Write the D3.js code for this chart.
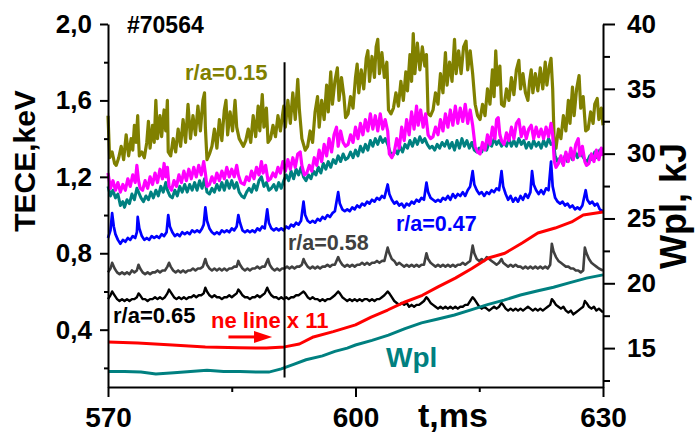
<!DOCTYPE html>
<meta charset="utf-8">
<title>ECE #70564</title>
<style>
body { margin: 0; background: #fff; }
svg { display: block; }
</style>
<svg width="697" height="434"></svg>
<script src="https://d3js.org/d3.v7.min.js"></script>
<script>
// ticks
var xTicks = [570, 600, 630], xMinor = [585, 615];
var yTicks = [0.4, 0.8, 1.2, 1.6, 2.0], yMinor = [0.2, 0.6, 1.0, 1.4, 1.8];
var yTickLabels = ["0,4", "0,8", "1,2", "1,6", "2,0"];
var wTicks = [15, 20, 25, 30, 35, 40], wMinor = [12.5, 17.5, 22.5, 27.5, 32.5, 37.5];

// sawtooth crash marker, ms
var markerT = 591.4, markerV = [0.15, 1.80];

// ECE r/a=0.15  [t ms, keV]
var ece015 = [[570.0,1.52],[570.2,1.30],[570.5,1.33],[570.8,1.27],[571.0,1.26],[571.3,1.30],
  [571.6,1.36],[571.9,1.29],[572.2,1.42],[572.5,1.31],[572.8,1.40],[573.0,1.34],[573.2,1.47],[573.4,1.38],[573.6,1.52],[573.7,1.40],
  [573.8,1.31],[574.1,1.33],[574.4,1.30],
  [574.7,1.38],[574.9,1.49],[575.1,1.35],[575.4,1.47],[575.6,1.38],[575.8,1.60],[576.0,1.40],[576.3,1.52],[576.5,1.41],[576.8,1.55],[577.0,1.44],[577.2,1.60],
  [577.3,1.33],[577.6,1.31],
  [577.9,1.40],[578.2,1.33],[578.5,1.45],[578.8,1.36],[579.1,1.50],[579.4,1.38],[579.7,1.58],[580.0,1.40],[580.3,1.52],[580.6,1.42],[580.9,1.57],[581.2,1.44],[581.5,1.60],[581.7,1.64],[581.8,1.46],
  [582.0,1.29],[582.3,1.32],
  [582.6,1.36],[582.9,1.45],[583.2,1.35],[583.5,1.50],[583.8,1.39],[584.1,1.55],[584.3,1.60],[584.5,1.42],[584.8,1.54],[585.1,1.44],[585.4,1.60],[585.6,1.46],
  [585.9,1.40],[586.4,1.36],[586.7,1.39],
  [587.0,1.45],[587.3,1.38],[587.6,1.52],[587.9,1.41],[588.2,1.57],[588.4,1.44],[588.7,1.63],[588.9,1.46],[589.2,1.56],[589.4,1.38],[589.7,1.40],
  [590.0,1.47],[590.3,1.41],[590.6,1.52],[590.9,1.44],[591.3,1.57],[591.5,1.46],[591.8,1.60],[592.1,1.48],[592.4,1.64],[592.7,1.50],[593.0,1.71],[593.2,1.55],
  [593.5,1.40],[593.9,1.34],[594.2,1.36],
  [594.5,1.44],[594.8,1.38],[595.1,1.54],[595.4,1.62],[595.6,1.46],[595.9,1.60],[596.2,1.50],[596.5,1.68],[596.7,1.54],[597.0,1.75],[597.2,1.58],[597.5,1.70],[597.8,1.77],[598.0,1.60],[598.3,1.72],[598.6,1.62],
  [598.8,1.51],[599.1,1.53],
  [599.4,1.62],[599.7,1.56],[600.0,1.72],[600.2,1.79],[600.4,1.64],[600.7,1.76],[601.0,1.66],[601.3,1.82],[601.5,1.86],[601.7,1.70],[602.0,1.83],[602.3,1.72],[602.5,1.88],[602.7,1.92],[602.9,1.74],[603.2,1.85],[603.5,1.72],[603.8,1.80],
  [604.0,1.55],[604.3,1.53],[604.6,1.56],
  [604.9,1.64],[605.2,1.57],[605.5,1.70],[605.8,1.60],[606.1,1.75],[606.3,1.65],[606.6,1.84],[606.8,1.70],[607.0,1.95],[607.2,1.74],[607.5,1.90],[607.8,1.76],[608.1,1.88],[608.4,1.78],[608.6,1.84],
  [608.8,1.53],[609.1,1.52],[609.4,1.55],
  [609.7,1.64],[610.0,1.58],[610.3,1.74],[610.6,1.64],[610.9,1.85],[611.1,1.68],[611.4,1.80],[611.7,1.70],[612.0,1.92],[612.2,1.74],[612.5,1.86],[612.8,1.74],[613.1,1.88],[613.4,1.91],[613.6,1.76],[613.9,1.86],[614.2,1.74],
  [614.5,1.58],[614.8,1.52],[615.1,1.50],
  [615.4,1.58],[615.7,1.52],[616.0,1.66],[616.3,1.58],[616.6,1.76],[616.8,1.62],[617.0,1.86],[617.2,1.68],[617.5,1.78],
  [617.7,1.58],[618.0,1.57],
  [618.3,1.66],[618.6,1.60],[618.9,1.72],[619.2,1.63],[619.5,1.76],[619.8,1.81],[620.0,1.66],[620.3,1.74],[620.6,1.64],[620.9,1.60],[621.1,1.70],[621.3,1.76],[621.5,1.64],[621.8,1.74],[622.1,1.65],[622.4,1.77],[622.7,1.66],[623.0,1.80],[623.2,1.68],[623.5,1.78],[623.7,1.82],[623.9,1.66],
  [624.1,1.36],[624.3,1.35],
  [624.6,1.45],[624.9,1.40],[625.2,1.52],[625.5,1.44],[625.8,1.60],[626.0,1.48],[626.3,1.67],[626.5,1.52],[626.8,1.66],[627.1,1.73],[627.3,1.56],[627.6,1.62],
  [627.9,1.44],[628.2,1.45],
  [628.5,1.54],[628.8,1.48],[629.0,1.58],[629.3,1.61],[629.5,1.50],[629.8,1.56],[630.0,1.47]];

// ECE, magenta channel
var eceMagenta = [[570.0,1.22],[570.3,1.14],[570.6,1.18],[570.9,1.13],[571.2,1.17],[571.5,1.12],[571.8,1.16],[572.1,1.13],[572.4,1.19],[572.7,1.15],[573.0,1.21],[573.3,1.17],[573.5,1.26],[573.7,1.18],
  [573.9,1.14],[574.2,1.13],
  [574.5,1.18],[574.8,1.14],[575.1,1.20],[575.4,1.16],[575.7,1.22],[576.0,1.17],[576.3,1.24],[576.6,1.19],[576.8,1.27],[577.0,1.20],[577.2,1.25],
  [577.4,1.15],[577.7,1.13],
  [578.0,1.18],[578.3,1.15],[578.6,1.21],[578.9,1.17],[579.2,1.23],[579.5,1.18],[579.8,1.24],[580.1,1.19],[580.4,1.25],[580.7,1.20],[581.0,1.26],[581.3,1.21],[581.6,1.28],[581.8,1.22],
  [582.0,1.15],[582.3,1.16],
  [582.6,1.20],[582.9,1.17],[583.2,1.22],[583.5,1.18],[583.8,1.23],[584.1,1.19],[584.4,1.25],[584.7,1.20],[585.0,1.24],[585.3,1.20],[585.6,1.26],[585.8,1.21],
  [586.1,1.17],[586.5,1.16],
  [586.8,1.20],[587.1,1.18],[587.4,1.23],[587.7,1.19],[588.0,1.25],[588.3,1.21],[588.6,1.28],[588.8,1.22],[589.1,1.26],
  [589.4,1.18],[589.7,1.19],
  [590.0,1.22],[590.3,1.20],[590.6,1.25],[590.9,1.22],[591.2,1.28],[591.5,1.23],[591.8,1.29],[592.1,1.24],[592.4,1.30],[592.7,1.25],[593.0,1.32],[593.3,1.33],[593.5,1.26],
  [593.8,1.21],[594.1,1.22],
  [594.4,1.26],[594.7,1.23],[595.0,1.30],[595.3,1.26],[595.6,1.34],[595.9,1.28],[596.2,1.37],[596.5,1.31],[596.8,1.40],[597.1,1.33],[597.4,1.42],[597.7,1.46],[597.9,1.36],[598.2,1.44],[598.5,1.38],
  [598.8,1.36],[599.1,1.37],
  [599.4,1.42],[599.7,1.38],[600.0,1.46],[600.3,1.40],[600.6,1.48],[600.9,1.42],[601.2,1.50],[601.5,1.44],[601.8,1.53],[602.1,1.45],[602.4,1.52],[602.7,1.44],[603.0,1.53],[603.3,1.45],[603.6,1.50],[603.9,1.44],
  [604.1,1.32],[604.4,1.30],[604.7,1.33],
  [605.0,1.40],[605.3,1.35],[605.6,1.46],[605.9,1.39],[606.2,1.50],[606.5,1.42],[606.8,1.54],[607.1,1.45],[607.4,1.57],[607.6,1.47],[607.9,1.55],[608.2,1.46],[608.5,1.53],
  [608.8,1.42],[609.1,1.40],[609.4,1.41],
  [609.7,1.46],[610.0,1.42],[610.3,1.50],[610.6,1.44],[610.9,1.53],[611.2,1.46],[611.5,1.55],[611.8,1.47],[612.1,1.57],[612.4,1.48],[612.7,1.56],[613.0,1.49],[613.3,1.58],[613.6,1.48],[613.9,1.55],[614.2,1.47],
  [614.5,1.36],[614.8,1.33],[615.1,1.32],
  [615.4,1.38],[615.7,1.34],[616.0,1.42],[616.3,1.37],[616.6,1.46],[616.9,1.40],[617.1,1.50],[617.3,1.51],[617.5,1.42],
  [617.7,1.39],[618.0,1.37],
  [618.3,1.43],[618.6,1.39],[618.9,1.46],[619.2,1.40],[619.5,1.48],[619.8,1.50],[620.1,1.41],[620.4,1.46],[620.7,1.40],[621.0,1.45],[621.3,1.47],[621.6,1.40],[621.9,1.46],[622.2,1.41],[622.5,1.45],[622.8,1.40],[623.1,1.46],[623.4,1.41],[623.7,1.48],[623.9,1.42],
  [624.1,1.28],[624.3,1.25],[624.6,1.27],
  [624.9,1.31],[625.2,1.26],[625.5,1.33],[625.8,1.28],[626.1,1.35],[626.4,1.29],[626.7,1.37],[627.0,1.40],[627.2,1.31],[627.5,1.36],
  [627.8,1.28],[628.0,1.26],[628.3,1.27],
  [628.6,1.32],[628.9,1.28],[629.2,1.34],[629.5,1.29],[629.8,1.35],[630.0,1.31]];

// ECE, teal channel
var eceTeal = [[570.0,1.15],[570.3,1.10],[570.6,1.13],[570.9,1.09],[571.2,1.11],[571.5,1.05],[571.8,1.07],[572.0,1.04],[572.3,1.08],[572.6,1.06],[572.9,1.11],[573.2,1.08],[573.5,1.14],[573.7,1.12],
  [574.0,1.09],[574.3,1.07],[574.6,1.10],[574.9,1.08],[575.2,1.12],[575.5,1.09],[575.8,1.13],[576.1,1.10],[576.4,1.15],[576.7,1.12],[577.0,1.17],[577.2,1.13],[577.5,1.10],[577.8,1.09],
  [578.1,1.13],[578.4,1.10],[578.7,1.15],[579.0,1.12],[579.3,1.16],[579.6,1.12],[579.9,1.16],[580.2,1.13],[580.5,1.17],[580.8,1.13],[581.1,1.18],[581.4,1.14],[581.7,1.19],[582.0,1.12],
  [582.3,1.11],[582.6,1.14],[582.9,1.12],[583.2,1.16],[583.5,1.13],[583.8,1.17],[584.1,1.13],[584.4,1.18],[584.7,1.14],[585.0,1.18],[585.3,1.14],[585.6,1.17],[585.9,1.12],[586.2,1.10],
  [586.5,1.09],[586.8,1.12],[587.1,1.14],[587.4,1.12],[587.7,1.16],[588.0,1.13],[588.3,1.18],[588.6,1.20],[588.9,1.15],[589.2,1.17],[589.5,1.13],[589.8,1.14],[590.1,1.16],[590.4,1.13],
  [590.7,1.17],[591.0,1.14],[591.3,1.18],[591.6,1.21],[591.9,1.18],[592.2,1.23],[592.5,1.19],[592.8,1.24],[593.1,1.21],[593.4,1.25],[593.7,1.20],[594.0,1.18],[594.3,1.21],[594.6,1.19],
  [594.9,1.23],[595.2,1.21],[595.5,1.25],[595.8,1.22],[596.1,1.27],[596.4,1.24],[596.7,1.28],[597.0,1.25],[597.3,1.29],[597.6,1.27],[597.9,1.31],[598.2,1.28],[598.5,1.32],[598.8,1.29],
  [599.1,1.30],[599.4,1.33],[599.7,1.30],[600.0,1.34],[600.3,1.31],[600.6,1.36],[600.9,1.33],[601.2,1.37],[601.5,1.34],[601.8,1.39],[602.1,1.36],[602.4,1.40],[602.7,1.37],[603.0,1.41],
  [603.3,1.38],[603.6,1.40],[603.9,1.37],[604.2,1.33],[604.5,1.31],[604.8,1.34],[605.1,1.32],[605.4,1.36],[605.7,1.33],[606.0,1.37],[606.3,1.35],[606.6,1.39],[606.9,1.36],[607.2,1.40],
  [607.5,1.37],[607.8,1.41],[608.1,1.38],[608.4,1.40],[608.7,1.37],[609.0,1.35],[609.3,1.36],[609.6,1.34],[609.9,1.37],[610.2,1.35],[610.5,1.38],[610.8,1.36],[611.1,1.39],[611.4,1.35],
  [611.7,1.38],[612.0,1.34],[612.3,1.39],[612.6,1.35],[612.9,1.40],[613.2,1.36],[613.5,1.39],[613.8,1.35],[614.1,1.38],[614.4,1.34],[614.7,1.33],[615.0,1.35],[615.3,1.33],[615.6,1.37],
  [615.9,1.34],[616.2,1.38],[616.5,1.36],[616.8,1.40],[617.1,1.37],[617.4,1.39],[617.7,1.36],[618.0,1.38],[618.3,1.36],[618.6,1.40],[618.9,1.36],[619.2,1.39],[619.5,1.36],[619.8,1.40],
  [620.1,1.37],[620.4,1.39],[620.7,1.35],[621.0,1.38],[621.3,1.35],[621.6,1.39],[621.9,1.36],[622.2,1.38],[622.5,1.35],[622.8,1.39],[623.1,1.36],[623.4,1.40],[623.7,1.37],[624.0,1.38],
  [624.2,1.31],[624.5,1.28],[624.8,1.30],[625.1,1.27],[625.4,1.31],[625.7,1.28],[626.0,1.32],[626.3,1.29],[626.6,1.33],[626.9,1.30],[627.2,1.34],[627.5,1.31],[627.8,1.29],[628.1,1.28],
  [628.4,1.31],[628.7,1.29],[629.0,1.33],[629.3,1.30],[629.6,1.34],[630.0,1.33]];

// ECE r/a=0.47
var ece047 = [[570.0,0.88],[570.3,0.92],[570.5,1.01],[570.7,0.94],[570.9,0.90],[571.2,0.87],[571.5,0.85],[571.8,0.87],[572.1,0.86],[572.4,0.88],[572.7,0.87],[573.0,0.89],[573.3,0.88],[573.5,0.91],
  [573.6,0.99],[573.8,0.93],[574.1,0.89],[574.4,0.87],[574.7,0.88],[575.0,0.87],[575.3,0.89],[575.6,0.88],[575.9,0.89],[576.2,0.88],[576.5,0.90],[576.8,0.89],[577.1,0.91],[577.3,1.00],
  [577.5,0.94],[577.8,0.91],[578.1,0.89],[578.4,0.90],[578.7,0.89],[579.0,0.91],[579.3,0.90],[579.6,0.91],[579.9,0.90],[580.2,0.92],[580.5,0.91],[580.8,0.92],[581.1,0.91],[581.4,0.93],
  [581.6,0.95],[581.8,1.04],[582.0,0.97],[582.3,0.93],[582.6,0.91],[582.9,0.90],[583.2,0.91],[583.5,0.90],[583.8,0.92],[584.1,0.91],[584.4,0.92],[584.7,0.91],[585.0,0.93],[585.3,0.92],
  [585.6,0.94],[585.8,1.00],[586.0,0.96],[586.3,0.92],[586.6,0.91],[586.9,0.92],[587.2,0.91],[587.5,0.92],[587.8,0.91],[588.1,0.93],[588.4,0.92],[588.7,0.94],[589.0,0.93],[589.3,1.03],
  [589.5,0.96],[589.8,0.93],[590.1,0.92],[590.4,0.93],[590.7,0.92],[591.0,0.93],[591.3,0.92],[591.6,0.94],[591.9,0.93],[592.2,0.95],[592.5,0.94],[592.8,0.96],[593.1,0.95],[593.4,0.97],
  [593.7,1.07],[593.9,1.00],[594.2,0.97],[594.5,0.96],[594.8,0.97],[595.1,0.96],[595.4,0.98],[595.7,0.97],[596.0,0.99],[596.3,0.98],[596.6,1.00],[596.9,0.99],[597.2,1.01],[597.5,1.02],
  [597.9,1.12],[598.1,1.06],[598.4,1.03],[598.7,1.02],[599.0,1.03],[599.3,1.02],[599.6,1.04],[599.9,1.03],[600.2,1.05],[600.5,1.04],[600.8,1.06],[601.1,1.05],[601.4,1.07],[601.7,1.06],
  [602.0,1.08],[602.3,1.07],[602.6,1.09],[602.9,1.08],[603.2,1.10],[603.5,1.09],[603.9,1.16],[604.1,1.11],[604.4,1.08],[604.7,1.06],[605.0,1.07],[605.3,1.05],[605.6,1.06],[605.9,1.04],
  [606.2,1.06],[606.5,1.05],[606.8,1.07],[607.1,1.06],[607.4,1.08],[607.7,1.07],[608.0,1.09],[608.3,1.08],[608.6,1.17],[608.8,1.12],[609.1,1.09],[609.4,1.08],[609.7,1.07],[610.0,1.08],
  [610.3,1.07],[610.6,1.09],[610.9,1.08],[611.2,1.10],[611.5,1.08],[611.8,1.11],[612.1,1.09],[612.4,1.11],[612.7,1.10],[613.0,1.12],[613.3,1.10],[613.6,1.13],[613.9,1.15],[614.2,1.23],
  [614.4,1.16],[614.7,1.13],[615.0,1.11],[615.3,1.12],[615.6,1.10],[615.9,1.12],[616.2,1.11],[616.5,1.13],[616.8,1.12],[617.1,1.14],[617.4,1.13],[617.7,1.23],[617.9,1.15],[618.2,1.11],
  [618.5,1.08],[618.8,1.10],[619.1,1.07],[619.4,1.09],[619.7,1.07],[620.0,1.10],[620.3,1.08],[620.6,1.11],[620.9,1.09],[621.2,1.12],[621.4,1.23],[621.6,1.16],[621.9,1.13],[622.2,1.11],
  [622.5,1.13],[622.8,1.11],[623.1,1.14],[623.4,1.13],[623.7,1.28],[623.9,1.15],[624.2,1.09],[624.5,1.07],[624.8,1.06],[625.1,1.07],[625.4,1.05],[625.7,1.06],[626.0,1.04],[626.3,1.05],
  [626.6,1.03],[626.9,1.04],[627.2,1.03],[627.5,1.05],[627.9,1.13],[628.1,1.08],[628.4,1.06],[628.7,1.07],[629.0,1.05],[629.3,1.06],[629.6,1.03],[630.0,1.02]];

// ECE r/a=0.58
var ece058 = [[570.0,0.70],[570.3,0.72],[570.5,0.75],[570.8,0.72],[571.1,0.70],[571.4,0.69],[571.7,0.70],[572.0,0.69],[572.3,0.70],[572.6,0.69],[572.9,0.71],[573.2,0.70],[573.5,0.71],[573.7,0.74],
  [573.9,0.72],[574.2,0.70],[574.5,0.69],[574.8,0.70],[575.1,0.69],[575.4,0.70],[575.7,0.70],[576.0,0.71],[576.3,0.70],[576.6,0.71],[576.9,0.71],[577.2,0.73],[577.4,0.75],[577.6,0.73],
  [577.9,0.71],[578.2,0.70],[578.5,0.71],[578.8,0.70],[579.1,0.71],[579.4,0.70],[579.7,0.71],[580.0,0.71],[580.3,0.72],[580.6,0.71],[580.9,0.72],[581.2,0.72],[581.5,0.73],[581.8,0.77],
  [582.0,0.74],[582.3,0.72],[582.6,0.71],[582.9,0.72],[583.2,0.71],[583.5,0.72],[583.8,0.71],[584.1,0.72],[584.4,0.71],[584.7,0.72],[585.0,0.72],[585.3,0.73],[585.6,0.73],[585.8,0.76],
  [586.0,0.74],[586.3,0.72],[586.6,0.71],[586.9,0.72],[587.2,0.71],[587.5,0.72],[587.8,0.72],[588.1,0.73],[588.4,0.72],[588.7,0.73],[589.0,0.73],[589.4,0.77],[589.6,0.74],[589.9,0.72],
  [590.2,0.71],[590.5,0.72],[590.8,0.71],[591.1,0.72],[591.4,0.72],[591.7,0.73],[592.0,0.72],[592.3,0.73],[592.6,0.72],[592.9,0.73],[593.2,0.73],[593.5,0.74],[593.7,0.77],[593.9,0.75],
  [594.2,0.73],[594.5,0.72],[594.8,0.73],[595.1,0.72],[595.4,0.73],[595.7,0.72],[596.0,0.73],[596.3,0.73],[596.6,0.74],[596.9,0.73],[597.2,0.74],[597.5,0.74],[597.9,0.78],[598.1,0.76],
  [598.4,0.74],[598.7,0.73],[599.0,0.74],[599.3,0.73],[599.6,0.74],[599.9,0.73],[600.2,0.74],[600.5,0.74],[600.8,0.75],[601.1,0.74],[601.4,0.75],[601.7,0.74],[602.0,0.75],[602.3,0.75],
  [602.6,0.76],[602.9,0.75],[603.2,0.76],[603.5,0.76],[603.9,0.83],[604.1,0.80],[604.4,0.77],[604.7,0.76],[605.0,0.74],[605.3,0.75],[605.6,0.74],[605.9,0.73],[606.2,0.74],[606.5,0.73],
  [606.8,0.74],[607.1,0.73],[607.4,0.74],[607.7,0.73],[608.0,0.74],[608.3,0.74],[608.6,0.80],[608.8,0.77],[609.1,0.75],[609.4,0.74],[609.7,0.73],[610.0,0.74],[610.3,0.73],[610.6,0.74],
  [610.9,0.73],[611.2,0.74],[611.5,0.73],[611.8,0.74],[612.1,0.73],[612.4,0.74],[612.7,0.74],[613.0,0.75],[613.3,0.74],[613.6,0.75],[613.9,0.76],[614.2,0.84],[614.4,0.80],[614.7,0.77],
  [615.0,0.76],[615.3,0.77],[615.6,0.76],[615.9,0.78],[616.2,0.77],[616.5,0.76],[616.8,0.75],[617.1,0.74],[617.4,0.75],[617.7,0.77],[617.9,0.75],[618.2,0.74],[618.5,0.73],[618.8,0.74],
  [619.1,0.73],[619.4,0.74],[619.7,0.73],[620.0,0.73],[620.3,0.72],[620.6,0.73],[620.9,0.72],[621.2,0.73],[621.5,0.72],[621.8,0.73],[622.1,0.72],[622.4,0.73],[622.7,0.72],[623.0,0.73],
  [623.3,0.72],[623.6,0.74],[623.8,0.85],[624.0,0.81],[624.3,0.78],[624.6,0.76],[624.9,0.75],[625.2,0.74],[625.5,0.73],[625.8,0.73],[626.1,0.72],[626.4,0.72],[626.7,0.71],[627.0,0.71],
  [627.3,0.70],[627.6,0.71],[627.8,0.83],[628.0,0.80],[628.3,0.77],[628.6,0.75],[628.9,0.74],[629.2,0.73],[629.5,0.72],[630.0,0.71]];

// ECE r/a=0.65
var ece065 = [[570.0,0.56],[570.3,0.58],[570.5,0.60],[570.8,0.58],[571.1,0.56],[571.4,0.55],[571.7,0.56],[572.0,0.55],[572.3,0.56],[572.6,0.55],[572.9,0.56],[573.2,0.56],[573.5,0.57],[573.7,0.59],
  [573.9,0.58],[574.2,0.56],[574.5,0.56],[574.8,0.55],[575.1,0.56],[575.4,0.56],[575.7,0.57],[576.0,0.56],[576.3,0.57],[576.6,0.56],[576.9,0.57],[577.2,0.59],[577.4,0.61],[577.7,0.59],
  [578.0,0.57],[578.3,0.56],[578.6,0.57],[578.9,0.56],[579.2,0.57],[579.5,0.56],[579.8,0.57],[580.1,0.57],[580.4,0.58],[580.7,0.57],[581.0,0.58],[581.3,0.58],[581.6,0.59],[581.8,0.62],
  [582.0,0.60],[582.3,0.58],[582.6,0.57],[582.9,0.58],[583.2,0.57],[583.5,0.57],[583.8,0.56],[584.1,0.57],[584.4,0.57],[584.7,0.58],[585.0,0.57],[585.3,0.58],[585.6,0.59],[585.8,0.61],
  [586.0,0.60],[586.3,0.58],[586.6,0.57],[586.9,0.57],[587.2,0.56],[587.5,0.57],[587.8,0.57],[588.1,0.58],[588.4,0.57],[588.7,0.58],[589.0,0.59],[589.3,0.62],[589.5,0.60],[589.8,0.58],
  [590.1,0.57],[590.4,0.57],[590.7,0.56],[591.0,0.57],[591.3,0.56],[591.6,0.57],[591.9,0.56],[592.2,0.57],[592.5,0.57],[592.8,0.58],[593.1,0.58],[593.4,0.59],[593.7,0.60],[593.9,0.59],
  [594.2,0.57],[594.5,0.56],[594.8,0.57],[595.1,0.56],[595.4,0.56],[595.7,0.55],[596.0,0.56],[596.3,0.55],[596.6,0.56],[596.9,0.56],[597.2,0.57],[597.5,0.58],[597.9,0.60],[598.1,0.59],
  [598.4,0.57],[598.7,0.56],[599.0,0.55],[599.3,0.56],[599.6,0.55],[599.9,0.56],[600.2,0.55],[600.5,0.56],[600.8,0.55],[601.1,0.56],[601.4,0.56],[601.7,0.55],[602.0,0.56],[602.3,0.55],
  [602.6,0.56],[602.9,0.56],[603.2,0.57],[603.5,0.58],[603.9,0.60],[604.1,0.59],[604.4,0.57],[604.7,0.55],[605.0,0.54],[605.3,0.53],[605.6,0.54],[605.9,0.53],[606.2,0.54],[606.5,0.52],
  [606.8,0.53],[607.1,0.52],[607.4,0.53],[607.7,0.53],[608.0,0.54],[608.3,0.55],[608.6,0.57],[608.8,0.56],[609.1,0.54],[609.4,0.53],[609.7,0.52],[610.0,0.51],[610.3,0.52],[610.6,0.51],
  [610.9,0.52],[611.2,0.51],[611.5,0.52],[611.8,0.51],[612.1,0.52],[612.4,0.51],[612.7,0.52],[613.0,0.52],[613.3,0.53],[613.6,0.53],[613.9,0.55],[614.2,0.57],[614.4,0.56],[614.7,0.54],
  [615.0,0.52],[615.3,0.51],[615.6,0.52],[615.9,0.51],[616.2,0.50],[616.5,0.51],[616.8,0.52],[617.1,0.51],[617.4,0.52],[617.7,0.54],[617.9,0.53],[618.2,0.51],[618.5,0.50],[618.8,0.51],
  [619.1,0.50],[619.4,0.51],[619.7,0.50],[620.0,0.51],[620.3,0.50],[620.6,0.51],[620.9,0.52],[621.2,0.51],[621.5,0.50],[621.8,0.51],[622.1,0.50],[622.4,0.51],[622.7,0.50],[623.0,0.51],
  [623.3,0.52],[623.6,0.53],[623.8,0.56],[624.0,0.55],[624.3,0.53],[624.6,0.52],[624.9,0.51],[625.2,0.52],[625.5,0.50],[625.8,0.49],[626.1,0.50],[626.4,0.48],[626.7,0.49],[627.0,0.50],
  [627.3,0.51],[627.6,0.52],[627.8,0.55],[628.0,0.54],[628.3,0.52],[628.6,0.51],[628.9,0.52],[629.2,0.50],[629.5,0.51],[630.0,0.49]];

// line density x 11, plotted on the keV axis
var neLine = [[570.0,0.336],[573.6,0.330],[577.8,0.320],[581.8,0.310],[585.9,0.305],[589.2,0.304],[591.4,0.310],[593.2,0.325],
  [594.9,0.362],[597.3,0.390],[600.0,0.425],[601.9,0.466],[603.9,0.503],[606.0,0.545],[608.1,0.580],[610.0,0.624],
  [612.1,0.670],[614.1,0.720],[616.1,0.775],[618.1,0.800],[620.2,0.854],[622.1,0.906],[624.2,0.932],[626.2,0.964],
  [627.6,1.000],[630.0,1.016]];

// stored energy, kJ (right axis)
var wpl = [[570,13.2],[572,13.2],[574,13.15],[575.8,13.0],[578,13.1],[580,13.2],[582,13.3],[584,13.2],[586,13.2],
  [588,13.15],[589.5,13.15],[591,13.4],[592.5,13.75],[594,14.1],[596,14.4],[597.5,14.75],[599,15.0],[600,15.24],
  [602,15.6],[604,16.0],[606,16.5],[608,16.95],[610,17.25],[612,17.55],[614,17.95],[616,18.35],[618,18.7],
  [620,19.1],[622,19.4],[624,19.7],[626,20.05],[628,20.4],[630,20.65]];

var FONT = "'Liberation Sans', Arial, sans-serif";

var svg = d3.select("svg"),
    x = d3.scaleLinear().domain([570, 630]).range([108, 603]),
    y = d3.scaleLinear().domain([0.1, 2.0]).range([387, 24]),
    yW = d3.scaleLinear().domain([12, 40]).range([387, 24]);

var line = d3.line().x(function(d) { return x(d[0]); }).y(function(d) { return y(d[1]); });
var lineW = d3.line().x(function(d) { return x(d[0]); }).y(function(d) { return yW(d[1]); });

var traces = [
  [ece015, "#808000", 3.2],
  [eceTeal, "#008080", 3.0],
  [eceMagenta, "#ff00ff", 3.2],
  [ece047, "#0000ff", 2.7],
  [ece058, "#404040", 2.6],
  [ece065, "#000000", 2.4],
  [neLine, "#ff0000", 3.0]
];

var plot = svg.append("g");
traces.forEach(function(t) {
  plot.append("path")
    .attr("d", line(t[0]))
    .attr("fill", "none")
    .attr("stroke", t[1])
    .attr("stroke-width", t[2])
    .attr("stroke-linejoin", "round");
});
plot.append("path")
  .attr("d", lineW(wpl))
  .attr("fill", "none")
  .attr("stroke", "#008080")
  .attr("stroke-width", 3);

// crash marker
plot.append("line")
  .attr("x1", x(markerT)).attr("x2", x(markerT))
  .attr("y1", y(markerV[0])).attr("y2", y(markerV[1]))
  .attr("stroke", "#000").attr("stroke-width", 2);

// axes
function styleAxis(g, size) {
  g.attr("font-family", FONT).attr("font-size", size).attr("font-weight", "bold");
  g.select(".domain").attr("stroke-width", 2);
  g.selectAll(".tick line").attr("stroke-width", 2);
  g.selectAll(".tick text").attr("fill", "#000");
}

var gx = svg.append("g").attr("transform", "translate(0,387)")
  .call(d3.axisBottom(x).tickValues(xTicks).tickSize(10).tickPadding(10).tickSizeOuter(0));
styleAxis(gx, 28);
svg.append("g").attr("transform", "translate(0,387)")
  .call(d3.axisBottom(x).tickValues(xMinor).tickSize(5).tickFormat(""))
  .call(function(g) { g.select(".domain").remove(); g.selectAll(".tick line").attr("stroke-width", 2); });

var gy = svg.append("g").attr("transform", "translate(108,0)")
  .call(d3.axisLeft(y).tickValues(yTicks).tickSize(8).tickPadding(8).tickSizeOuter(0)
    .tickFormat(function(d, i) { return yTickLabels[i]; }));
styleAxis(gy, 26);
svg.append("g").attr("transform", "translate(108,0)")
  .call(d3.axisLeft(y).tickValues(yMinor).tickSize(4).tickFormat(""))
  .call(function(g) { g.select(".domain").remove(); g.selectAll(".tick line").attr("stroke-width", 2); });

var gw = svg.append("g").attr("transform", "translate(603,0)")
  .call(d3.axisRight(yW).tickValues(wTicks).tickSize(12).tickPadding(12).tickSizeOuter(0));
styleAxis(gw, 26);
svg.append("g").attr("transform", "translate(603,0)")
  .call(d3.axisRight(yW).tickValues(wMinor).tickSize(7).tickFormat(""))
  .call(function(g) { g.select(".domain").remove(); g.selectAll(".tick line").attr("stroke-width", 2); });

// titles and labels
function label(txt, px, py, size, color, rot, anchor) {
  return svg.append("text")
    .attr("font-family", FONT).attr("font-weight", "bold")
    .attr("font-size", size).attr("fill", color)
    .attr("text-anchor", anchor || "start")
    .attr("transform", "translate(" + px + "," + py + ")" + (rot ? " rotate(" + rot + ")" : ""))
    .text(txt);
}

label("TECE,keV", 35, 161, 30, "#000", -90, "middle");
label("Wpl, kJ", 686, 206, 36, "#000", -90, "middle");
label("t,ms", 418, 427, 34, "#000");
label("#70564", 127, 33, 23, "#000");
label("r/a=0.15", 185, 80, 22, "#808000");
label("r/a=0.47", 396, 231, 21.5, "#0000ff");
label("r/a=0.58", 288, 250, 21.5, "#404040");
label("r/a=0.65", 113, 323, 22, "#000");
label("ne line x 11", 211, 328, 22, "#ff0000");
label("Wpl", 386, 367, 28, "#008080");

// red arrow under the density label
var arrow = svg.append("g").attr("fill", "#ff0000").attr("stroke", "#ff0000");
arrow.append("line")
  .attr("x1", x(584.6)).attr("x2", x(588.2))
  .attr("y1", y(0.362)).attr("y2", y(0.362))
  .attr("stroke-width", 3);
arrow.append("path")
  .attr("d", d3.line()([[x(587.7), y(0.362) - 6], [x(589.9), y(0.362)], [x(587.7), y(0.362) + 6]]))
  .attr("stroke", "none");
</script>
